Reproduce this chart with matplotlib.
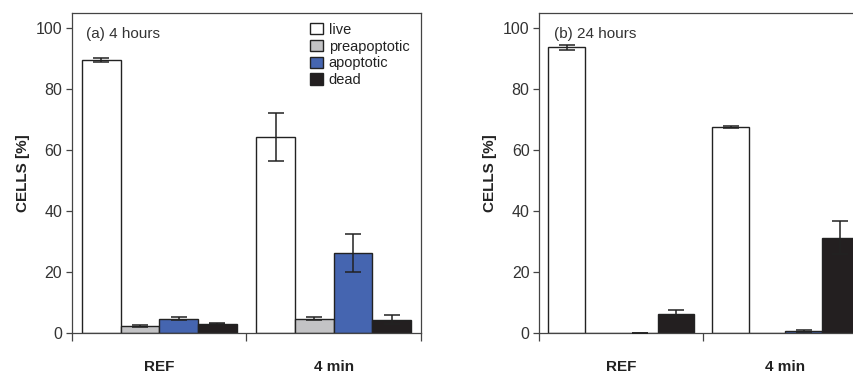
import matplotlib
matplotlib.use("Agg")
import matplotlib.pyplot as plt
from matplotlib.patches import Patch
import numpy as np

plt.rcParams['font.family'] = ['Liberation Sans', 'DejaVu Sans']

groups = ["REF", "4 min"]
series = ["live", "preapoptotic", "apoptotic", "dead"]
colors = ["#ffffff", "#c3c3c5", "#4565b0", "#231f20"]

# panel (a) 4 hours
a_live = [89.6, 64.3]
a_pre = [2.4, 4.8]
a_apo = [4.8, 26.2]
a_dead = [3.1, 4.4]
a_live_err = [0.5, 7.8]
a_pre_err = [0.2, 0.6]
a_apo_err = [0.4, 6.2]
a_dead_err = [0.15, 1.5]

# panel (b) 24 hours
b_live = [93.7, 67.6]
b_pre = [0.0, 0.0]
b_apo = [0.1, 0.7]
b_dead = [6.4, 31.4]
b_live_err = [0.7, 0.3]
b_pre_err = [0.0, 0.0]
b_apo_err = [0.1, 0.3]
b_dead_err = [1.1, 5.5]

W, H = 854, 375
fig = plt.figure(figsize=(W / 100, H / 100), dpi=100)

def px_axes(x0, x1, ytop, ybot):
    return fig.add_axes([x0 / W, (H - ybot) / H, (x1 - x0) / W, (ybot - ytop) / H])

ax1 = px_axes(72, 421, 13, 333.3)
ax2 = px_axes(539.3, 867.3, 13, 333.3)

bw = 0.222
spine_col = "#444444"

def draw(ax, vals, errs, title):
    x = np.arange(len(groups))
    for i, (v, e, c) in enumerate(zip(vals, errs, colors)):
        pos = x + (i - 1.5) * bw
        ax.bar(pos, v, width=bw, color=c, edgecolor="#222222", linewidth=1.0, zorder=2)
        mask = np.array(v) > 0
        ax.errorbar(pos[mask], np.array(v)[mask], yerr=np.array(e)[mask], fmt="none",
                    ecolor="#222222", elinewidth=1.1, capsize=5.5, capthick=1.1, zorder=3)
    ax.set_xlim(-0.5, 1.5)
    ax.set_ylim(0, 105)
    ax.set_yticks([0, 20, 40, 60, 80, 100])
    ax.tick_params(axis="y", direction="out", length=4, width=0.9, labelsize=11.5,
                   colors=spine_col, labelcolor="#333333", pad=3)
    ax.set_xticks([-0.5, 0.5, 1.5])
    ax.set_xticklabels([])
    ax.tick_params(axis="x", direction="out", length=6, width=0.9, colors=spine_col)
    ax.set_xticks([0, 1], minor=True)
    ax.set_xticklabels(groups, minor=True, fontweight="bold", fontsize=11)
    ax.tick_params(axis="x", which="minor", length=0, pad=19, labelcolor="#222222")
    for s in ax.spines.values():
        s.set_color(spine_col)
        s.set_linewidth(0.9)
    ax.set_ylabel("CELLS [%]", fontweight="bold", fontsize=11, color="#222222", labelpad=4)
    ax.text(0.04 if title.startswith("(a)") else 0.044, 0.935, title, transform=ax.transAxes,
            fontsize=11, color="#333333", va="center", ha="left")

draw(ax1, [a_live, a_pre, a_apo, a_dead], [a_live_err, a_pre_err, a_apo_err, a_dead_err], "(a) 4 hours")
draw(ax2, [b_live, b_pre, b_apo, b_dead], [b_live_err, b_pre_err, b_apo_err, b_dead_err], "(b) 24 hours")

handles = [Patch(facecolor=c, edgecolor="#222222", linewidth=1.0) for c in colors]
ax1.legend(handles, series, loc="upper left", bbox_to_anchor=(0.683, 0.97), frameon=False,
           fontsize=10.5, handlelength=0.85, handleheight=0.85, handletextpad=0.4,
           labelspacing=0.2, borderpad=0, borderaxespad=0, labelcolor="#222222")

fig.savefig("out.png", dpi=100)
